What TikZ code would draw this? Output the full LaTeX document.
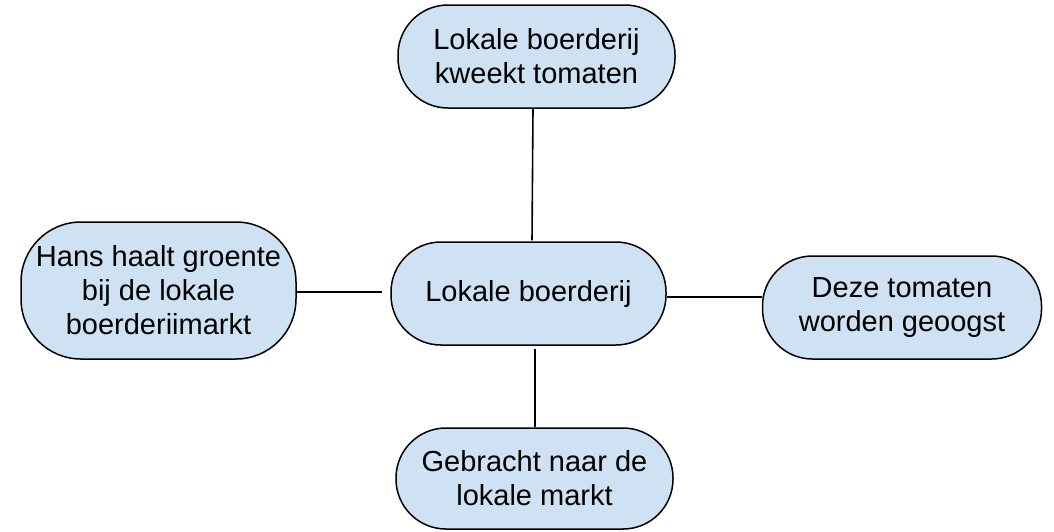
\documentclass[tikz,border=0pt]{standalone}
\usepackage{fontspec}
\setmainfont{Liberation Sans}
\definecolor{boxfill}{HTML}{CFE2F3}
\begin{document}
\begin{tikzpicture}[x=1pt,y=-1pt,
  pill/.style={draw=black, line width=1.5pt, fill=boxfill, rounded corners=50pt,
    align=center, inner sep=0pt, font=\fontsize{29}{34}\selectfont},
  link/.style={draw=black, line width=1.6pt}]
\useasboundingbox (0,0) rectangle (1054,531);
\node[pill, minimum width=277pt, minimum height=103pt] (top) at (536.5,56.5) {Lokale boerderij\\kweekt tomaten};
\node[pill, minimum width=275pt, minimum height=103pt] (center) at (528.5,293.5) {Lokale boerderij};
\node[pill, minimum width=275pt, minimum height=137pt, rounded corners=60pt] (left) at (158.5,290.5) {Hans haalt groente\\bij de lokale\\boerderiimarkt};
\node[pill, minimum width=279pt, minimum height=103pt] (right) at (902,307.5) {Deze tomaten\\worden geoogst};
\node[pill, minimum width=277pt, minimum height=101pt] (bottom) at (534.5,478.5) {Gebracht naar de\\lokale markt};
\draw[link] ([shift={(-3.5,0)}]top.south) -- ([shift={(3.5,-1)}]center.north);
\draw[link] ([shift={(0,1.5)}]left.east) -- ([shift={(-8,-1.5)}]center.west);
\draw[link] ([shift={(0,3.5)}]center.east) -- ([shift={(0,-10.5)}]right.west);
\draw[link] ([shift={(6.5,3)}]center.south) -- ([shift={(0.5,0)}]bottom.north);
\end{tikzpicture}
\end{document}
